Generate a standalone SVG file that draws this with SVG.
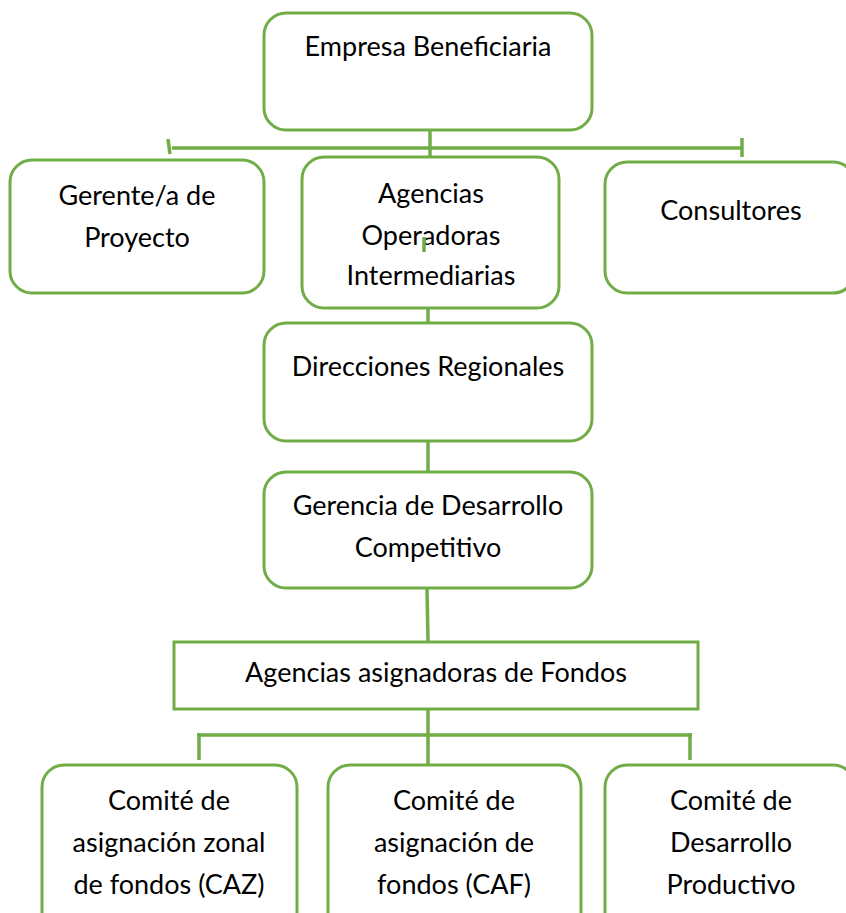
<svg xmlns="http://www.w3.org/2000/svg" width="846" height="913" viewBox="0 0 846 913">
<style>
.box{fill:#fff;stroke:#70AD47;stroke-width:3}
.ln{stroke:#70AD47;stroke-width:3.5;fill:none}
text{font-family:Lato,"Liberation Sans",sans-serif;font-size:27px;fill:#000;text-anchor:middle}
</style>
<rect width="846" height="913" fill="#fff"/>
<g id="connectors">
<line class="ln" x1="430" y1="130" x2="430" y2="157"/>
<line class="ln" x1="172" y1="148" x2="742" y2="148"/>
<line class="ln" x1="168" y1="139" x2="170" y2="154"/>
<line class="ln" x1="742" y1="138" x2="742" y2="157"/>
<line class="ln" x1="428" y1="308" x2="428" y2="323"/>
<line class="ln" x1="428" y1="441" x2="428" y2="472"/>
<line class="ln" x1="427" y1="588" x2="428" y2="642"/>
<line class="ln" x1="428" y1="709" x2="428" y2="766"/>
<line class="ln" x1="197" y1="735" x2="692" y2="735"/>
<line class="ln" x1="199" y1="733" x2="199" y2="760"/>
<line class="ln" x1="690" y1="733" x2="690" y2="760"/>
</g>
<g id="empresa"><rect class="box" x="264" y="13" width="328" height="117" rx="22"/><text x="428" y="56">Empresa Beneficiaria</text></g>
<g id="gerente"><rect class="box" x="10" y="160" width="254" height="133" rx="22"/><text x="137" y="205">Gerente/a de</text><text x="137" y="247">Proyecto</text></g>
<g id="agencias-op"><rect class="box" x="302" y="157" width="257" height="151" rx="22"/><text x="431" y="203">Agencias</text><text x="431" y="245">Operadoras</text><text x="431" y="285">Intermediarias</text></g>
<g id="consultores"><rect class="box" x="605" y="162" width="250" height="131" rx="22"/><text x="731" y="220">Consultores</text></g>
<g id="direcciones"><rect class="box" x="264" y="323" width="328" height="118" rx="22"/><text x="428" y="376">Direcciones Regionales</text></g>
<g id="gerencia"><rect class="box" x="264" y="472" width="328" height="116" rx="22"/><text x="428" y="515">Gerencia de Desarrollo</text><text x="428" y="557">Competitivo</text></g>
<g id="agencias-asig"><rect class="box" x="174" y="642" width="524" height="67"/><text x="436" y="682">Agencias asignadoras de Fondos</text></g>
<g id="caz"><rect class="box" x="42" y="765" width="255" height="170" rx="22"/><text x="169" y="810">Comité de</text><text x="169" y="852">asignación zonal</text><text x="169" y="894">de fondos (CAZ)</text></g>
<g id="caf"><rect class="box" x="328" y="765" width="253" height="170" rx="22"/><text x="454" y="810">Comité de</text><text x="454" y="852">asignación de</text><text x="454" y="894">fondos (CAF)</text></g>
<g id="cdp"><rect class="box" x="605" y="765" width="250" height="170" rx="22"/><text x="731" y="810">Comité de</text><text x="731" y="852">Desarrollo</text><text x="731" y="894">Productivo</text></g>
<g id="connector-tick"><line class="ln" x1="424" y1="237" x2="424" y2="252"/></g>
</svg>
